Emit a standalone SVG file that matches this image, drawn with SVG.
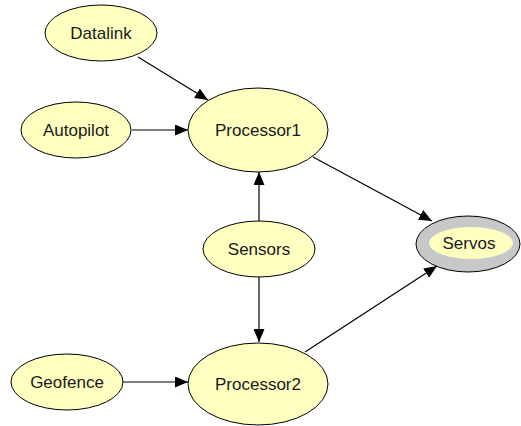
<svg xmlns="http://www.w3.org/2000/svg" width="521" height="426" viewBox="0 0 521 426">
<style>
.n{fill:#ffffc0;stroke:#000;stroke-width:1}
.t{font-family:"Liberation Sans",Arial,sans-serif;font-size:17px;fill:#1a1a1a;text-anchor:middle;dominant-baseline:central}
.e{stroke:#000;stroke-width:1.2;fill:none;marker-end:url(#a)}
</style>
<defs>
<marker id="a" viewBox="0 0 13 11" refX="13" refY="5.5" markerWidth="13" markerHeight="11" markerUnits="userSpaceOnUse" orient="auto">
<path d="M0,0 L13,5.5 L0,11 Z" fill="#000"/>
</marker>
</defs>
<rect width="521" height="426" fill="#fff"/>
<g id="connectors">
<line class="e" x1="138" y1="57" x2="208" y2="100"/>
<line class="e" x1="132" y1="130" x2="188" y2="130"/>
<line class="e" x1="313" y1="157" x2="432" y2="221"/>
<line class="e" x1="259" y1="221" x2="259" y2="172"/>
<line class="e" x1="259" y1="277" x2="259" y2="342"/>
<line class="e" x1="123" y1="382" x2="188" y2="382"/>
<line class="e" x1="305" y1="352" x2="437" y2="266"/>
</g>
<g id="Datalink"><ellipse class="n" cx="101" cy="33" rx="56" ry="28"/><text class="t" x="101" y="33">Datalink</text></g>
<g id="Autopilot"><ellipse class="n" cx="76" cy="130" rx="55" ry="28"/><text class="t" x="76" y="130">Autopilot</text></g>
<g id="Processor1"><ellipse class="n" cx="258" cy="130" rx="70" ry="42"/><text class="t" x="258" y="130">Processor1</text></g>
<g id="Sensors"><ellipse class="n" cx="259" cy="249" rx="56" ry="28"/><text class="t" x="259" y="249">Sensors</text></g>
<g id="Servos"><ellipse cx="468" cy="244" rx="52" ry="28" fill="#c8c8c8" stroke="#000" stroke-width="1"/><ellipse cx="471" cy="243" rx="42" ry="16" fill="#ffffc0"/><text class="t" x="469" y="243">Servos</text></g>
<g id="Geofence"><ellipse class="n" cx="67" cy="382" rx="56" ry="28"/><text class="t" x="67" y="382">Geofence</text></g>
<g id="Processor2"><ellipse class="n" cx="258" cy="384" rx="70" ry="41"/><text class="t" x="258" y="384">Processor2</text></g>
</svg>
